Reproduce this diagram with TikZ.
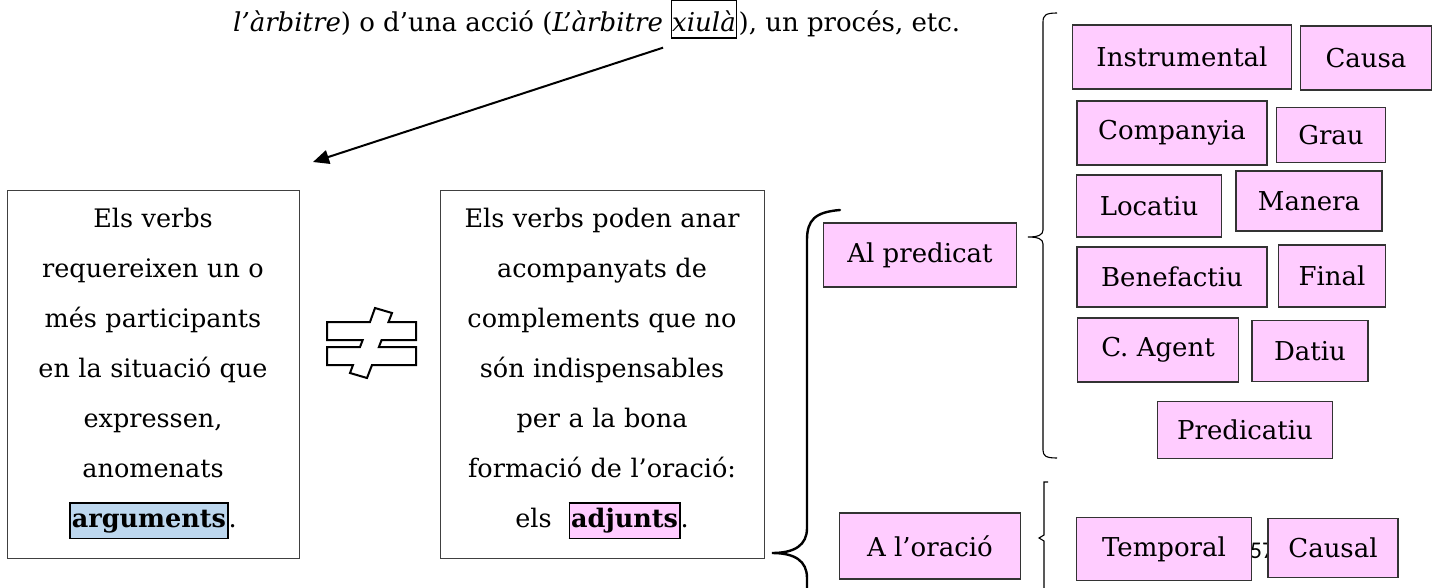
\documentclass[tikz,border=0pt]{standalone}
\usepackage{fontspec}
\setmainfont{DejaVu Serif}
\newfontfamily\pagenumfont{Carlito}
\usetikzlibrary{arrows.meta,positioning}

\definecolor{tagpink}{HTML}{FFCCFF}
\definecolor{argblue}{HTML}{BDD7EE}

% boxed word inside a text box
\newcommand{\hlword}[2]{{\setlength{\fboxsep}{1pt}\setlength{\fboxrule}{1.5pt}%
  \fcolorbox{black}{#1}{\rule[-9pt]{0pt}{32pt}\textbf{#2}}}}

\tikzset{
  textbox/.style={draw=black!75, line width=1pt, minimum height=368pt, align=center,
    inner sep=0pt, font=\fontsize{25.5}{50}\selectfont},
  tagbox/.style={draw=black!80, line width=1.2pt, fill=tagpink, inner sep=0pt,
    font=\fontsize{26}{30}\selectfont},
  plaintext/.style={inner sep=0pt, font=\fontsize{26}{30}\selectfont},
  bigbrace/.style={line width=2.4pt, line cap=round},
  smallbrace/.style={line width=1.1pt},
}

\begin{document}
\begin{tikzpicture}[x=1pt, y=-1pt]
\clip (0,0) rectangle (1441,587);

% top line
\node[plaintext, anchor=base west] (topl) at (233,31) {\textit{l'àrbitre}) o d'una acció (\textit{L'àrbitre}};
\node[plaintext, draw, line width=1.3pt, inner xsep=0.5pt, inner ysep=2pt, text height=29pt, text depth=5pt,
  anchor=base west] (xiula) at ([xshift=8pt]topl.base east) {\textit{xiulà}};
\node[plaintext, anchor=base west] (topr) at ([xshift=1.5pt]xiula.base east) {), un procés, etc.};
\coordinate (argtip) at (313,162);
\draw[line width=2pt, -{Triangle[length=16pt,width=14pt]}] ([shift={(-8pt,-9pt)}]xiula.south west) -- (argtip);

% the two text boxes
\node[textbox, minimum width=292pt, text width=285pt] (args) at (153,374)
  {Els verbs\\ requereixen un o\\ més participants\\ en la situació que\\ expressen,\\ anomenats\\ \hlword{argblue}{arguments}.};
\node[textbox, minimum width=324pt, text width=318pt] (adjs) at (602,374)
  {Els verbs poden anar\\ acompanyats de\\ complements que no\\ són indispensables\\ per a la bona\\ formació de l'oració:\\ els\ \ \hlword{tagpink}{adjunts}.};

% not equal sign
\draw[line width=2pt] (327,322) -- (370,322) -- (375,308) -- (392,313) -- (388.5,322) -- (416,322)
  -- (416,340) -- (381.6,340) -- (378.9,347) -- (416,347) -- (416,365) -- (372,365) -- (367,378)
  -- (350,373) -- (353,365) -- (327,365) -- (327,347) -- (360,347) -- (362.7,340) -- (327,340) -- cycle;

% big brace
\draw[bigbrace] (840,210) .. controls (815,212) and (807,220) .. (807,240) -- (807,528)
  .. controls (807,545) and (795,553) .. (772,553) .. controls (795,553) and (807,561) .. (807,578) -- (807,600);

\node[tagbox, minimum width=193pt, minimum height=64pt] (pred) at (920,255) {Al predicat};
\node[tagbox, minimum width=181pt, minimum height=66pt] (orac) at (930,546) {A l'oració};

% small braces
\draw[smallbrace] (1057,13) .. controls (1046,13) and (1043,15) .. (1043,22) -- (1043,230)
  .. controls (1043,235) and (1038,237) .. (1028,237) .. controls (1038,237) and (1043,239) .. (1043,244)
  -- (1043,450) .. controls (1043,456) and (1046,458) .. (1057,458);
\draw[smallbrace] (1048,482) -- (1044,482) -- (1044,535) -- (1039,538) -- (1044,541) -- (1044,600);

% page number, partly hidden
\node[inner sep=0pt, font=\pagenumfont\fontsize{24}{28}\selectfont] (pagenum) at (1262,551) {57};

% adjunct kinds
\node[tagbox, minimum width=219pt, minimum height=64pt] (instr) at (1182,57) {Instrumental};
\node[tagbox, minimum width=131pt, minimum height=64pt] (causa) at (1366,58) {Causa};
\node[tagbox, minimum width=190pt, minimum height=64pt] (comp) at (1172,133) {Companyia};
\node[tagbox, minimum width=109pt, minimum height=55pt] (grau) at (1331,135) {Grau};
\node[tagbox, minimum width=145pt, minimum height=62pt] (loc) at (1149,206) {Locatiu};
\node[tagbox, minimum width=146pt, minimum height=60pt] (manera) at (1309,201) {Manera};
\node[tagbox, minimum width=190pt, minimum height=60pt] (benef) at (1172,277) {Benefactiu};
\node[tagbox, minimum width=107pt, minimum height=62pt] (final) at (1332,276) {Final};
\node[tagbox, minimum width=161pt, minimum height=64pt] (agent) at (1158,350) {C. Agent};
\node[tagbox, minimum width=116pt, minimum height=61pt] (datiu) at (1310,351) {Datiu};
\node[tagbox, minimum width=175pt, minimum height=57pt] (predtiu) at (1245,430) {Predicatiu};
\node[tagbox, minimum width=175pt, minimum height=63pt] (temp) at (1164,549) {Temporal};
\node[tagbox, minimum width=130pt, minimum height=59pt] (causal) at (1333,548) {Causal};
\end{tikzpicture}
\end{document}
